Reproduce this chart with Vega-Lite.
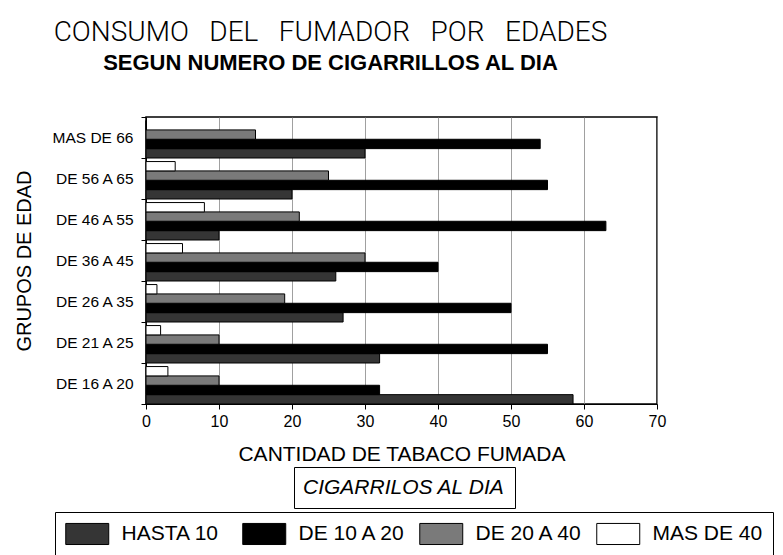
{
  "$schema": "https://vega.github.io/schema/vega-lite/v6.json",
  "width": 511,
  "height": 287,
  "autosize": {"type": "none"},
  "padding": {"left": 146, "top": 117, "right": 126, "bottom": 151},
  "background": "white",
  "title": {
    "text": "CONSUMO \u00a0\u00a0DEL \u00a0\u00a0FUMADOR \u00a0\u00a0POR \u00a0\u00a0EDADES",
    "subtitle": "SEGUN NUMERO DE CIGARRILLOS AL DIA",
    "frame": "group",
    "anchor": "middle",
    "dx": -71,
    "offset": 36,
    "font": "Roboto",
    "fontWeight": 300,
    "fontSize": 28,
    "color": "black",
    "subtitleFont": "Liberation Sans",
    "subtitleFontWeight": "bold",
    "subtitleFontSize": 22,
    "subtitleColor": "black",
    "subtitlePadding": 6
  },
  "data": {
    "values": [
      {"grupo": "MAS DE 66", "serie": "HASTA 10", "cantidad": 30},
      {"grupo": "MAS DE 66", "serie": "DE 10 A 20", "cantidad": 54},
      {"grupo": "MAS DE 66", "serie": "DE 20 A 40", "cantidad": 15},
      {"grupo": "MAS DE 66", "serie": "MAS DE 40", "cantidad": 0},
      {"grupo": "DE 56 A 65", "serie": "HASTA 10", "cantidad": 20},
      {"grupo": "DE 56 A 65", "serie": "DE 10 A 20", "cantidad": 55},
      {"grupo": "DE 56 A 65", "serie": "DE 20 A 40", "cantidad": 25},
      {"grupo": "DE 56 A 65", "serie": "MAS DE 40", "cantidad": 4},
      {"grupo": "DE 46 A 55", "serie": "HASTA 10", "cantidad": 10},
      {"grupo": "DE 46 A 55", "serie": "DE 10 A 20", "cantidad": 63},
      {"grupo": "DE 46 A 55", "serie": "DE 20 A 40", "cantidad": 21},
      {"grupo": "DE 46 A 55", "serie": "MAS DE 40", "cantidad": 8},
      {"grupo": "DE 36 A 45", "serie": "HASTA 10", "cantidad": 26},
      {"grupo": "DE 36 A 45", "serie": "DE 10 A 20", "cantidad": 40},
      {"grupo": "DE 36 A 45", "serie": "DE 20 A 40", "cantidad": 30},
      {"grupo": "DE 36 A 45", "serie": "MAS DE 40", "cantidad": 5},
      {"grupo": "DE 26 A 35", "serie": "HASTA 10", "cantidad": 27},
      {"grupo": "DE 26 A 35", "serie": "DE 10 A 20", "cantidad": 50},
      {"grupo": "DE 26 A 35", "serie": "DE 20 A 40", "cantidad": 19},
      {"grupo": "DE 26 A 35", "serie": "MAS DE 40", "cantidad": 1.5},
      {"grupo": "DE 21 A 25", "serie": "HASTA 10", "cantidad": 32},
      {"grupo": "DE 21 A 25", "serie": "DE 10 A 20", "cantidad": 55},
      {"grupo": "DE 21 A 25", "serie": "DE 20 A 40", "cantidad": 10},
      {"grupo": "DE 21 A 25", "serie": "MAS DE 40", "cantidad": 2},
      {"grupo": "DE 16 A 20", "serie": "HASTA 10", "cantidad": 58.5},
      {"grupo": "DE 16 A 20", "serie": "DE 10 A 20", "cantidad": 32},
      {"grupo": "DE 16 A 20", "serie": "DE 20 A 40", "cantidad": 10},
      {"grupo": "DE 16 A 20", "serie": "MAS DE 40", "cantidad": 3}
    ]
  },
  "mark": {"type": "bar", "stroke": "black", "strokeWidth": 1},
  "encoding": {
    "y": {
      "field": "grupo",
      "type": "nominal",
      "sort": ["MAS DE 66", "DE 56 A 65", "DE 46 A 55", "DE 36 A 45", "DE 26 A 35", "DE 21 A 25", "DE 16 A 20"],
      "scale": {"paddingInner": 0, "paddingOuter": 0},
      "axis": {
        "title": "GRUPOS DE EDAD",
        "titleFontSize": 20,
        "titleFontWeight": "normal",
        "titleColor": "black",
        "titlePadding": 18,
        "labelFontSize": 15.5,
        "labelColor": "black",
        "labelPadding": 8,
        "tickBand": "extent",
        "tickSize": 5,
        "tickColor": "black",
        "domainColor": "black",
        "grid": false
      }
    },
    "yOffset": {
      "field": "serie",
      "type": "nominal",
      "sort": ["MAS DE 40", "DE 20 A 40", "DE 10 A 20", "HASTA 10"],
      "scale": {"paddingInner": 0, "paddingOuter": 0.19, "align": 1}
    },
    "x": {
      "field": "cantidad",
      "type": "quantitative",
      "scale": {"domain": [0, 70], "nice": false},
      "axis": {
        "title": "CANTIDAD DE TABACO FUMADA",
        "titleFontSize": 21,
        "titleFontWeight": "normal",
        "titleColor": "black",
        "titlePadding": 14,
        "labelFontSize": 16,
        "labelColor": "black",
        "labelPadding": 4,
        "labelFlush": false,
        "tickSize": 5,
        "tickColor": "black",
        "domainColor": "black",
        "values": [0, 10, 20, 30, 40, 50, 60, 70],
        "grid": true,
        "gridColor": "#888888",
        "gridWidth": 0.8
      }
    },
    "fill": {
      "field": "serie",
      "type": "nominal",
      "scale": {
        "domain": ["HASTA 10", "DE 10 A 20", "DE 20 A 40", "MAS DE 40"],
        "range": ["#353535", "#000000", "#7a7a7a", "#ffffff"]
      },
      "legend": {
        "title": null,
        "orient": "none",
        "legendX": -91,
        "legendY": 395,
        "direction": "horizontal",
        "columns": 4,
        "gridAlign": "all",
        "columnPadding": 8,
        "symbolType": "M-1,-0.98L3,-0.98L3,0.98L-1,0.98Z",
        "symbolSize": 462,
        "symbolStrokeColor": "black",
        "symbolStrokeWidth": 1,
        "symbolOpacity": 1,
        "labelFontSize": 21,
        "labelOffset": 33.5,
        "labelColor": "black",
        "labelLimit": 300,
        "strokeColor": "black",
        "padding": 10
      }
    },
    "opacity": {
      "datum": "CIGARRILOS AL DIA",
      "type": "ordinal",
      "scale": {"range": [1, 1]},
      "legend": {
        "title": null,
        "orient": "none",
        "legendX": 148,
        "legendY": 350,
        "symbolSize": 0,
        "symbolOpacity": 0,
        "labelOffset": -22,
        "labelFontSize": 21,
        "labelFontStyle": "italic",
        "labelColor": "black",
        "labelLimit": 400,
        "strokeColor": "black",
        "padding": 10
      }
    }
  },
  "config": {
    "font": "Liberation Sans",
    "view": {"stroke": "black", "strokeWidth": 1.5}
  }
}
